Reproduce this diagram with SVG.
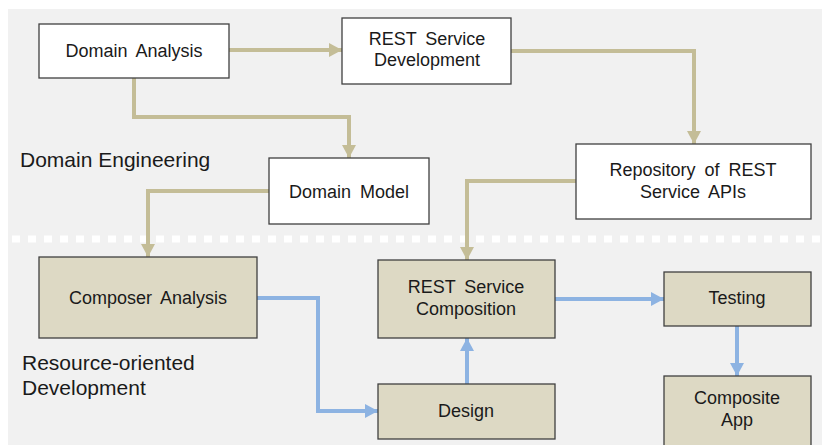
<svg xmlns="http://www.w3.org/2000/svg" width="822" height="445" viewBox="0 0 822 445">
<style>
.bg{fill:#f1f1f1}
.w{fill:#ffffff;stroke:#404040;stroke-width:1.3}
.t{fill:#ddd9c4;stroke:#404040;stroke-width:1.3}
.lbl{font-family:"Liberation Sans",Arial,sans-serif;font-size:18px;fill:#1a1a1a;text-anchor:middle;word-spacing:4px}
.sec{font-family:"Liberation Sans",Arial,sans-serif;font-size:21px;fill:#1a1a1a}
.ct{fill:none;stroke:#c4bd97;stroke-width:4}
.cb{fill:none;stroke:#8db3e2;stroke-width:4}
</style>
<defs>
<marker id="at" markerUnits="userSpaceOnUse" markerWidth="14" markerHeight="14" refX="13" refY="7" orient="auto">
<path d="M0,0 L13,7 L0,14 Z" fill="#c4bd97"/>
</marker>
<marker id="ab" markerUnits="userSpaceOnUse" markerWidth="14" markerHeight="14" refX="13" refY="7" orient="auto">
<path d="M0,0 L13,7 L0,14 Z" fill="#8db3e2"/>
</marker>
</defs>
<rect class="bg" x="8" y="9" width="814" height="436"/>
<line x1="12" y1="239" x2="822" y2="239" stroke="#ffffff" stroke-width="7" stroke-dasharray="8 8"/>
<text class="sec" x="20" y="167">Domain Engineering</text>
<text class="sec" x="22" y="370">Resource-oriented</text>
<text class="sec" x="22" y="395">Development</text>
<g id="connectors">
<path class="ct" d="M229,50 L342,50" marker-end="url(#at)"/>
<path class="ct" d="M134,78 L134,117 L349,117 L349,158" marker-end="url(#at)"/>
<path class="ct" d="M511,51 L694,51 L694,144" marker-end="url(#at)"/>
<path class="ct" d="M269,191 L148,191 L148,257" marker-end="url(#at)"/>
<path class="ct" d="M576,181 L467,181 L467,260" marker-end="url(#at)"/>
<path class="cb" d="M257,298 L318,298 L318,411 L378,411" marker-end="url(#ab)"/>
<path class="cb" d="M467,384 L467,338" marker-end="url(#ab)"/>
<path class="cb" d="M555,299 L664,299" marker-end="url(#ab)"/>
<path class="cb" d="M737,326 L737,376" marker-end="url(#ab)"/>
</g>
<g id="domain-analysis">
<rect class="w" x="39" y="24" width="190" height="54"/>
<text class="lbl" x="134" y="57">Domain Analysis</text>
</g>
<g id="rest-service-development">
<rect class="w" x="342" y="18" width="169" height="66"/>
<text class="lbl" x="427" y="45">REST Service</text>
<text class="lbl" x="427" y="66">Development</text>
</g>
<g id="domain-model">
<rect class="w" x="269" y="158" width="160" height="66"/>
<text class="lbl" x="349" y="198">Domain Model</text>
</g>
<g id="repository">
<rect class="w" x="576" y="144" width="235" height="75"/>
<text class="lbl" x="693" y="176">Repository of REST</text>
<text class="lbl" x="693" y="198">Service APIs</text>
</g>
<g id="composer-analysis">
<rect class="t" x="39" y="257" width="218" height="81"/>
<text class="lbl" x="148" y="304">Composer Analysis</text>
</g>
<g id="rest-service-composition">
<rect class="t" x="378" y="260" width="177" height="78"/>
<text class="lbl" x="466" y="293">REST Service</text>
<text class="lbl" x="466" y="315">Composition</text>
</g>
<g id="design">
<rect class="t" x="378" y="384" width="177" height="55"/>
<text class="lbl" x="466" y="417">Design</text>
</g>
<g id="testing">
<rect class="t" x="664" y="272" width="147" height="54"/>
<text class="lbl" x="737" y="304">Testing</text>
</g>
<g id="composite-app">
<rect class="t" x="664" y="376" width="147" height="72"/>
<text class="lbl" x="737" y="404">Composite</text>
<text class="lbl" x="737" y="426">App</text>
</g>
</svg>
